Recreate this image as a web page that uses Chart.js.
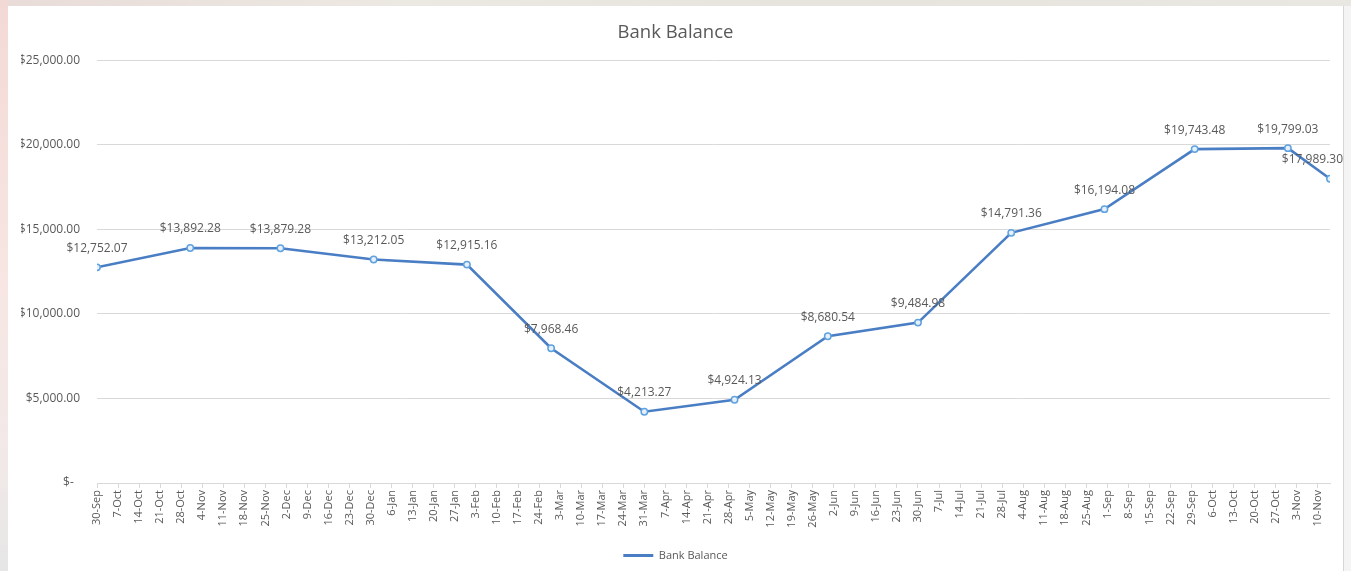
<!DOCTYPE html>
<html>
<head>
<meta charset="utf-8">
<script src="https://cdn.jsdelivr.net/npm/chart.js@4/dist/chart.umd.min.js"></script>
<style>
  html, body { margin: 0; padding: 0; background: #ffffff; }
  #wrap { position: relative; width: 1351px; height: 571px; overflow: hidden; background: #ffffff; }
  #c { position: absolute; left: 0; top: 0; }
  .deco-top { position: absolute; left: 0; top: 0; width: 1351px; height: 6px;
    background: linear-gradient(to right, #e9dcd8, #ece9e2 30%, #e6e4dc 60%, #e9e7e2); }
  .deco-left { position: absolute; left: 0; top: 0; width: 8px; height: 571px;
    background: linear-gradient(to bottom, #f3d9d5, #f7e6e3 50%, #f1e9e8 80%, #e6e6e6); }
  .deco-right { position: absolute; left: 1343px; top: 6px; width: 1px; height: 565px; background: #d6d6d6; }
  .deco-right2 { position: absolute; left: 1344px; top: 6px; width: 7px; height: 565px; background: #f4f4f4; }
</style>
</head>
<body>
<div id="wrap">
  <canvas id="c" width="1351" height="571"></canvas>
  <div class="deco-top"></div>
  <div class="deco-left"></div>
  <div class="deco-right"></div>
  <div class="deco-right2"></div>
</div>
<script>
// ---- Data ----
const seriesName = 'Bank Balance';
const chartTitle = 'Bank Balance';
const dates = [
  '2018-09-30', '2018-10-31', '2018-11-30', '2018-12-31', '2019-01-31',
  '2019-02-28', '2019-03-31', '2019-04-30', '2019-05-31', '2019-06-30',
  '2019-07-31', '2019-08-31', '2019-09-30', '2019-10-31', '2019-11-14'
];
const balances = [
  12752.07, 13892.28, 13879.28, 13212.05, 12915.16,
  7968.46, 4213.27, 4924.13, 8680.54, 9484.98,
  14791.36, 16194.08, 19743.48, 19799.03, 17989.30
];
const tickLabels = [
  '30-Sep','7-Oct','14-Oct','21-Oct','28-Oct','4-Nov','11-Nov','18-Nov','25-Nov',
  '2-Dec','9-Dec','16-Dec','23-Dec','30-Dec','6-Jan','13-Jan','20-Jan','27-Jan',
  '3-Feb','10-Feb','17-Feb','24-Feb','3-Mar','10-Mar','17-Mar','24-Mar','31-Mar',
  '7-Apr','14-Apr','21-Apr','28-Apr','5-May','12-May','19-May','26-May',
  '2-Jun','9-Jun','16-Jun','23-Jun','30-Jun','7-Jul','14-Jul','21-Jul','28-Jul',
  '4-Aug','11-Aug','18-Aug','25-Aug','1-Sep','8-Sep','15-Sep','22-Sep','29-Sep',
  '6-Oct','13-Oct','20-Oct','27-Oct','3-Nov','10-Nov'
];
const yTicks = [0, 5000, 10000, 15000, 20000, 25000];

// ---- Helpers ----
const DAY = 86400000;
const toUTC = s => { const p = s.split('-').map(Number); return Date.UTC(p[0], p[1] - 1, p[2]); };
const base = toUTC(dates[0]);
const dayOffsets = dates.map(d => Math.round((toUTC(d) - base) / DAY));
const points = dayOffsets.map((x, i) => ({ x: x, y: balances[i] }));
const money = v => '$' + v.toLocaleString('en-US', { minimumFractionDigits: 2, maximumFractionDigits: 2 });

const FONT = '"Open Sans", "Liberation Sans", sans-serif';
const GREY = '#595959';
const GRID = '#d9d9d9';
const LINE = '#4a7ec4';

const dataLabels = {
  id: 'dataLabels',
  afterDatasetsDraw(chart) {
    const ctx = chart.ctx;
    const meta = chart.getDatasetMeta(0);
    ctx.save();
    ctx.font = '12px ' + FONT;
    ctx.fillStyle = GREY;
    ctx.textAlign = 'center';
    ctx.textBaseline = 'middle';
    meta.data.forEach((pt, i) => {
      const txt = money(balances[i]);
      const w = ctx.measureText(txt).width;
      let cx = pt.x;
      const maxR = 1343;
      if (cx + w / 2 > maxR) cx = maxR - w / 2;
      ctx.fillText(txt, cx, pt.y - 19);
    });
    ctx.restore();
  }
};

new Chart(document.getElementById('c'), {
  type: 'line',
  data: {
    datasets: [{
      label: seriesName,
      data: points,
      borderColor: LINE,
      backgroundColor: LINE,
      borderWidth: 2.6,
      pointRadius: 3.2,
      pointBorderWidth: 1.5,
      pointBorderColor: '#5fa2e0',
      pointBackgroundColor: '#e6f0fa',
      tension: 0,
      fill: false
    }]
  },
  options: {
    responsive: false,
    animation: false,
    layout: { padding: { left: 21, right: 21, top: 0, bottom: 0 } },
    plugins: {
      title: {
        display: true,
        text: chartTitle,
        color: GREY,
        font: { family: FONT, size: 18.5, weight: 'normal' },
        padding: { top: 22, bottom: 16 }
      },
      legend: {
        display: true,
        position: 'bottom',
        labels: {
          color: GREY,
          font: { family: FONT, size: 11 },
          usePointStyle: true,
          pointStyle: 'line',
          pointStyleWidth: 30,
          boxHeight: 11,
          padding: 8,
          generateLabels(chart) {
            const items = Chart.defaults.plugins.legend.labels.generateLabels(chart);
            items.forEach(it => { it.lineWidth = 3; it.strokeStyle = LINE; it.fillStyle = LINE; it.pointStyle = 'line'; });
            return items;
          }
        }
      },
      tooltip: { enabled: false }
    },
    scales: {
      x: {
        type: 'linear',
        min: 0,
        max: dayOffsets[dayOffsets.length - 1],
        afterBuildTicks(scale) {
          scale.ticks = tickLabels.map((_, i) => ({ value: i * 7 }));
        },
        afterFit(scale) { scale.height = 59; },
        ticks: {
          autoSkip: false,
          maxRotation: 90,
          minRotation: 90,
          color: GREY,
          font: { family: FONT, size: 11 },
          padding: 2,
          callback: v => tickLabels[Math.round(v / 7)]
        },
        grid: { drawOnChartArea: false, drawTicks: true, tickLength: 5, color: GRID },
        border: { display: true, color: GRID, width: 1 }
      },
      y: {
        min: 0,
        max: 25000,
        afterBuildTicks(scale) {
          scale.ticks = yTicks.map(v => ({ value: v }));
        },
        afterFit(scale) { scale.width = 76; },
        ticks: {
          color: GREY,
          font: { family: FONT, size: 12 },
          padding: 17,
          callback: v => v === 0 ? '$-  ' : money(v)
        },
        grid: { color: GRID, drawTicks: false, lineWidth: 1 },
        border: { display: false }
      }
    }
  },
  plugins: [dataLabels]
});
</script>
</body>
</html>
